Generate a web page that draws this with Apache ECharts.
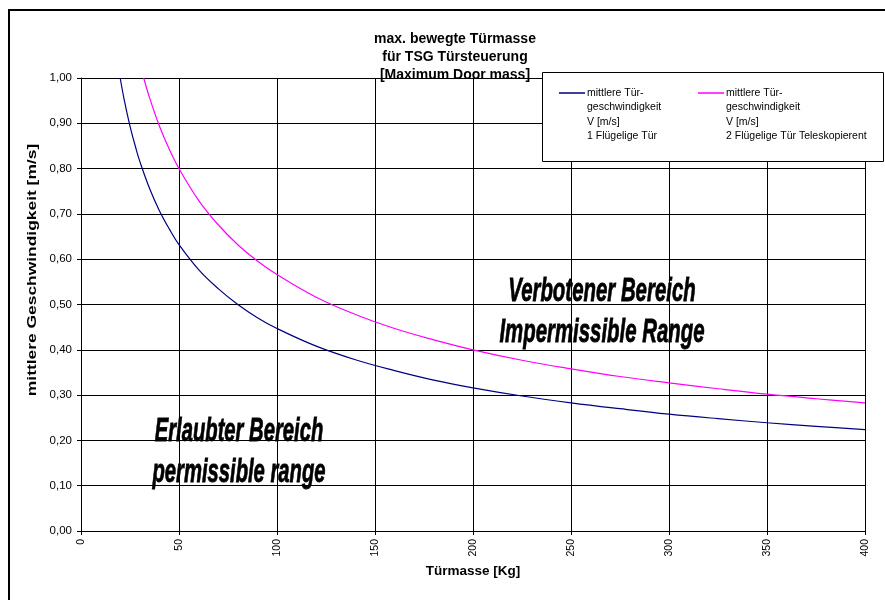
<!DOCTYPE html>
<html>
<head>
<meta charset="utf-8">
<script src="https://cdn.jsdelivr.net/npm/echarts@6/dist/echarts.min.js"></script>
<style>html,body{margin:0;padding:0;background:#fff}#c{width:885px;height:600px}</style>
</head>
<body>
<div id="c"></div>
<script>
const titleLines = ['max. bewegte Türmasse', 'für TSG Türsteuerung', '[Maximum Door mass]'];
const xAxisName = 'Türmasse [Kg]';
const yAxisName = 'mittlere Geschwindigkeit [m/s]';
const series1Name = ['mittlere Tür-', 'geschwindigkeit', 'V [m/s]', '1 Flügelige Tür'];
const series2Name = ['mittlere Tür-', 'geschwindigkeit', 'V [m/s]', '2 Flügelige Tür Teleskopierent'];
const annotationAllowed = ['Erlaubter Bereich', 'permissible range'];
const annotationForbidden = ['Verbotener Bereich', 'Impermissible Range'];

const mass1 = [20, 22, 25, 28, 30, 35, 40, 45, 50, 60, 70, 80, 90, 100, 120, 140, 160, 180, 200, 225, 250, 275, 300, 325, 350, 375, 400];
const speed1 = [1.000, 0.953, 0.894, 0.845, 0.816, 0.756, 0.707, 0.667, 0.632, 0.577, 0.535, 0.500, 0.471, 0.447, 0.408, 0.378, 0.354, 0.333, 0.316, 0.298, 0.283, 0.270, 0.258, 0.248, 0.239, 0.231, 0.224];
const mass2 = [32, 35, 40, 45, 50, 60, 70, 80, 90, 100, 120, 140, 160, 180, 200, 225, 250, 275, 300, 325, 350, 375, 400];
const speed2 = [1.000, 0.956, 0.894, 0.843, 0.800, 0.730, 0.676, 0.632, 0.596, 0.566, 0.516, 0.478, 0.447, 0.422, 0.400, 0.377, 0.358, 0.341, 0.327, 0.314, 0.302, 0.292, 0.283];

const FONT = '"Liberation Sans", Arial, sans-serif';
const chart = echarts.init(document.getElementById('c'), null, {renderer: 'canvas'});

function pairs(xs, ys) { return xs.map((x, i) => [x, ys[i]]); }

function legendItem(x, color, lines) {
  return {
    type: 'group', x: x, y: 86, z: 110,
    children: [
      {type: 'line', z: 110, shape: {x1: 0, y1: 7, x2: 26, y2: 7}, style: {stroke: color, lineWidth: 1.5}},
      {type: 'text', z: 110, x: 28, y: 0, style: {text: lines.join('\n'), font: '10.5px ' + FONT, fill: '#000', lineHeight: 14.3}}
    ]
  };
}

function annotation(cx, cy, lines, sx) {
  return lines.map((t, i) => ({
    type: 'text', x: cx, y: cy + i * 40.5, scaleX: sx, z: 50,
    style: {text: t, font: 'italic bold 34px ' + FONT, fill: '#000', stroke: '#000', lineWidth: 0.8,
      textAlign: 'center', textVerticalAlign: 'middle'}
  }));
}

const option = {
  backgroundColor: '#fff',
  animation: false,
  title: {
    text: titleLines.join('\n'),
    left: 450, top: 25, textAlign: 'center',
    textStyle: {fontFamily: FONT, fontSize: 14, fontWeight: 'bold', color: '#000', lineHeight: 18}
  },
  grid: {left: 81, right: 20, top: 78, bottom: 69, containLabel: false},
  xAxis: {
    type: 'value', min: 0, max: 400, interval: 50,
    name: xAxisName, nameLocation: 'middle', nameGap: 33,
    nameTextStyle: {fontFamily: FONT, fontSize: 13.5, fontWeight: 'bold', color: '#000'},
    axisLine: {show: true, lineStyle: {color: '#000', width: 1}},
    axisTick: {show: true, length: 4, lineStyle: {color: '#000'}},
    axisLabel: {rotate: 90, fontFamily: FONT, fontSize: 10.5, color: '#000', margin: 8},
    splitLine: {show: true, lineStyle: {color: '#000', width: 1}}
  },
  yAxis: {
    type: 'value', min: 0, max: 1, interval: 0.1,
    axisLine: {show: true, lineStyle: {color: '#000', width: 1}},
    axisTick: {show: true, length: 4, lineStyle: {color: '#000'}},
    axisLabel: {fontFamily: FONT, fontSize: 11.5, color: '#000', margin: 9,
      formatter: v => v.toFixed(2).replace('.', ',')},
    splitLine: {show: true, lineStyle: {color: '#000', width: 1}}
  },
  series: [
    {type: 'line', name: series1Name.join(' '), data: pairs(mass1, speed1), smooth: 0.4, showSymbol: false,
     lineStyle: {color: '#000080', width: 1.2}, itemStyle: {color: '#000080'}, z: 5},
    {type: 'line', name: series2Name.join(' '), data: pairs(mass2, speed2), smooth: 0.4, showSymbol: false,
     lineStyle: {color: '#ff00ff', width: 1.2}, itemStyle: {color: '#ff00ff'}, z: 5}
  ],
  graphic: [
    {type: 'rect', shape: {x: 9, y: 10, width: 900, height: 620}, style: {fill: 'none', stroke: '#000', lineWidth: 2}, z: 100, silent: true},
    {type: 'text', x: 33, y: 270, rotation: Math.PI / 2, scaleX: 1.45, z: 60,
     style: {text: yAxisName, font: 'bold 12px ' + FONT, fill: '#000', textAlign: 'center', textVerticalAlign: 'middle'}},
    {type: 'rect', shape: {x: 542.5, y: 72.5, width: 341, height: 89}, style: {fill: '#fff', stroke: '#000', lineWidth: 1}, z: 105},
    legendItem(559, '#000080', series1Name),
    legendItem(698, '#ff00ff', series2Name),
    ...annotation(239, 432, annotationAllowed, 0.595),
    ...annotation(602, 292, annotationForbidden, 0.60)
  ]
};
chart.setOption(option);
</script>
</body>
</html>
